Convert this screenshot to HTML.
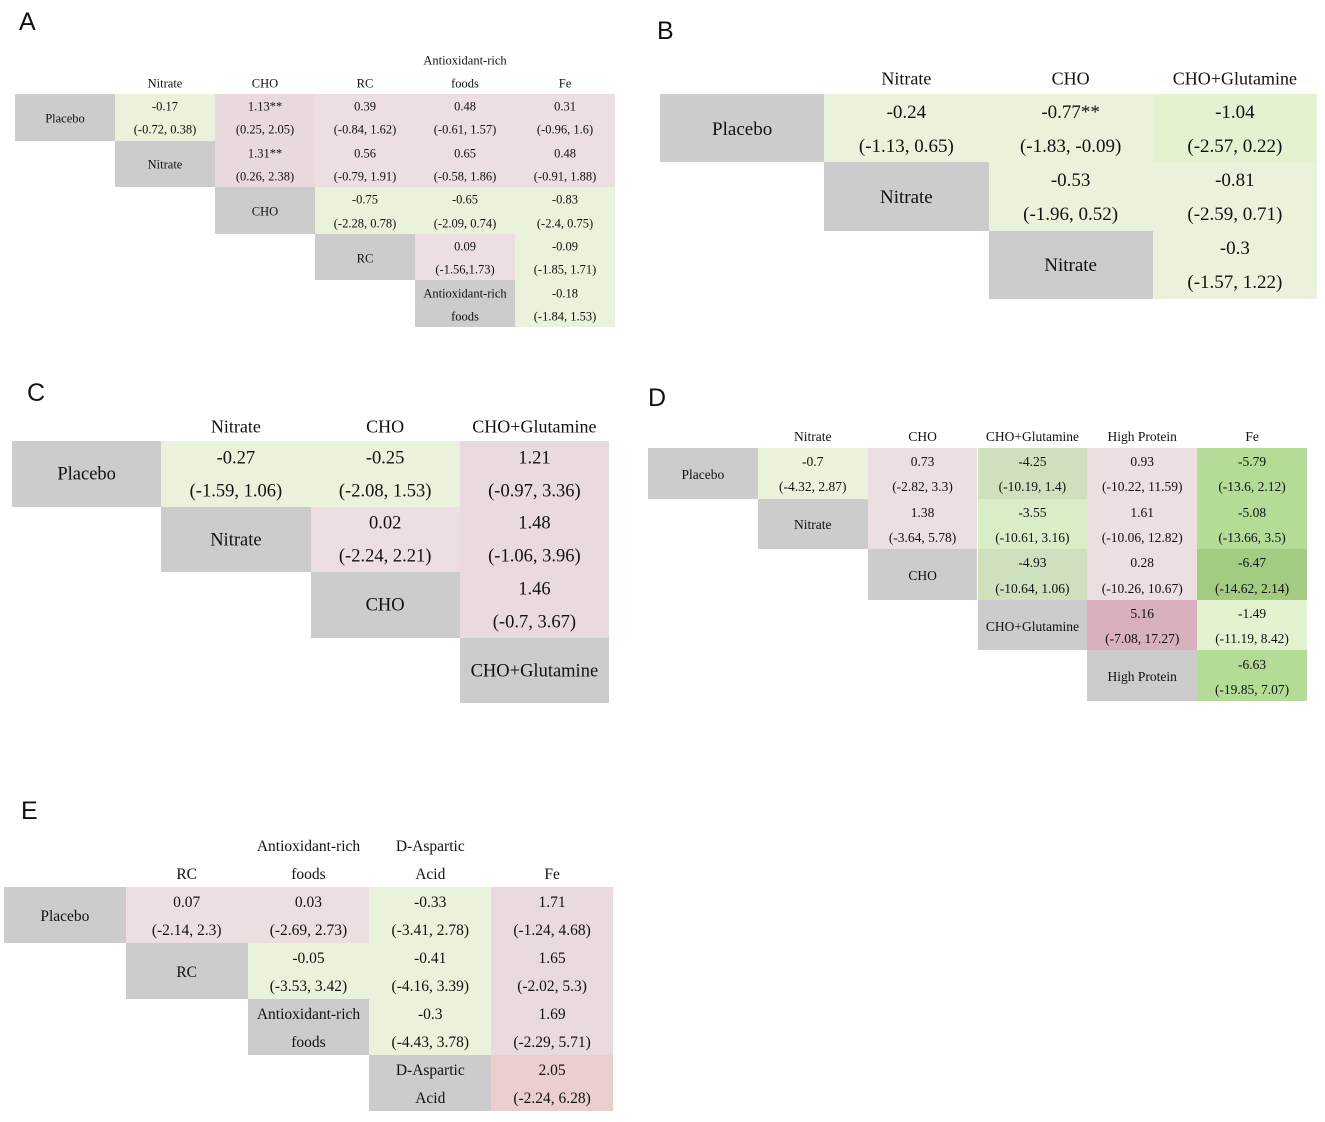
<!DOCTYPE html>
<html><head><meta charset="utf-8">
<style>
html,body{margin:0;padding:0;background:#fff;}
body{width:1325px;height:1122px;position:relative;overflow:hidden;font-family:"Liberation Serif",serif;color:#111;}
.lbl{position:absolute;font-family:"Liberation Sans",sans-serif;font-size:25px;}
.c{position:absolute;box-sizing:border-box;}
.t{position:absolute;left:0;right:0;text-align:center;white-space:nowrap;transform:translateY(-50%);margin-top:1.5px;}
</style></head><body>
<div class="lbl" style="left:19px;top:8px">A</div>
<div class="lbl" style="left:657px;top:17px">B</div>
<div class="lbl" style="left:27px;top:379px">C</div>
<div class="lbl" style="left:648px;top:384px">D</div>
<div class="lbl" style="left:21px;top:797px">E</div>
<script>
// ---- Panel A data ----
const aTreat = [["Placebo"],["Nitrate"],["CHO"],["RC"],["Antioxidant-rich","foods"]];
const aCols = [["Nitrate"],["CHO"],["RC"],["Antioxidant-rich","foods"],["Fe"]];
const aEst = [["-0.17","1.13**","0.39","0.48","0.31"],["1.31**","0.56","0.65","0.48"],["-0.75","-0.65","-0.83"],["0.09","-0.09"],["-0.18"]];
const aCI = [["(-0.72, 0.38)","(0.25, 2.05)","(-0.84, 1.62)","(-0.61, 1.57)","(-0.96, 1.6)"],["(0.26, 2.38)","(-0.79, 1.91)","(-0.58, 1.86)","(-0.91, 1.88)"],["(-2.28, 0.78)","(-2.09, 0.74)","(-2.4, 0.75)"],["(-1.56,1.73)","(-1.85, 1.71)"],["(-1.84, 1.53)"]];
const aFill = [["#ebf2dc","#ead9dc","#eddfe1","#eddfe1","#eddfe1"],["#ead9dc","#eddfe1","#eddfe1","#eddfe1"],["#ebf2dc","#ebf2dc","#ebf2dc"],["#eddfe1","#ebf2dc"],["#ebf2dc"]];
// ---- Panel B data ----
const bTreat = [["Placebo"],["Nitrate"],["Nitrate"]];
const bCols = [["Nitrate"],["CHO"],["CHO+Glutamine"]];
const bEst = [["-0.24","-0.77**","-1.04"],["-0.53","-0.81"],["-0.3"]];
const bCI = [["(-1.13, 0.65)","(-1.83, -0.09)","(-2.57, 0.22)"],["(-1.96, 0.52)","(-2.59, 0.71)"],["(-1.57, 1.22)"]];
const bFill = [["#ebf2dc","#ebf2dc","#e3f2cf"],["#ebf2dc","#ebf2dc"],["#ebf2dc"]];
// ---- Panel C data ----
const cTreat = [["Placebo"],["Nitrate"],["CHO"],["CHO+Glutamine"]];
const cCols = [["Nitrate"],["CHO"],["CHO+Glutamine"]];
const cEst = [["-0.27","-0.25","1.21"],["0.02","1.48"],["1.46"],[]];
const cCI = [["(-1.59, 1.06)","(-2.08, 1.53)","(-0.97, 3.36)"],["(-2.24, 2.21)","(-1.06, 3.96)"],["(-0.7, 3.67)"],[]];
const cFill = [["#ebf2dc","#ebf2dc","#ead9de"],["#eddfe1","#ead9de"],["#ead9de"],[]];
// ---- Panel D data ----
const dTreat = [["Placebo"],["Nitrate"],["CHO"],["CHO+Glutamine"],["High Protein"]];
const dCols = [["Nitrate"],["CHO"],["CHO+Glutamine"],["High Protein"],["Fe"]];
const dEst = [["-0.7","0.73","-4.25","0.93","-5.79"],["1.38","-3.55","1.61","-5.08"],["-4.93","0.28","-6.47"],["5.16","-1.49"],["-6.63"]];
const dCI = [["(-4.32, 2.87)","(-2.82, 3.3)","(-10.19, 1.4)","(-10.22, 11.59)","(-13.6, 2.12)"],["(-3.64, 5.78)","(-10.61, 3.16)","(-10.06, 12.82)","(-13.66, 3.5)"],["(-10.64, 1.06)","(-10.26, 10.67)","(-14.62, 2.14)"],["(-7.08, 17.27)","(-11.19, 8.42)"],["(-19.85, 7.07)"]];
const dFill = [["#ebf3dc","#ecdfe1","#cfe0bf","#ecdfe1","#b5dc97"],["#ecdfe1","#d9edc6","#ecdfe1","#b5dc97"],["#cfe0bf","#ecdfe1","#a3cc82"],["#d9b0bd","#e3f2cf"],["#b5dc97"]];
// ---- Panel E data ----
const eTreat = [["Placebo"],["RC"],["Antioxidant-rich","foods"],["D-Aspartic","Acid"]];
const eCols = [["RC"],["Antioxidant-rich","foods"],["D-Aspartic","Acid"],["Fe"]];
const eEst = [["0.07","0.03","-0.33","1.71"],["-0.05","-0.41","1.65"],["-0.3","1.69"],["2.05"]];
const eCI = [["(-2.14, 2.3)","(-2.69, 2.73)","(-3.41, 2.78)","(-1.24, 4.68)"],["(-3.53, 3.42)","(-4.16, 3.39)","(-2.02, 5.3)"],["(-4.43, 3.78)","(-2.29, 5.71)"],["(-2.24, 6.28)"]];
const eFill = [["#eddfe1","#eddfe1","#ebf2dc","#ead9de"],["#ebf2dc","#ebf2dc","#ead9de"],["#ebf2dc","#ead9de"],["#ebcfcf"]];

function textLines(parent, lines, h, fs, nameBase){
  const n = lines.length;
  lines.forEach((s,k)=>{
    const d=document.createElement('div');
    d.className='t';
    
    
    d.style.fontSize=fs+'px';
    d.style.top=(n===1? h/2 : h*(0.25+0.5*k))+'px';
    d.textContent=s;
    parent.appendChild(d);
  });
}
function panel(id, o, treat, cols, est, ci, fill){
  const wrap=document.createElement('div');
  
  
  document.body.appendChild(wrap);
  const cw=o.w/(cols.length+1), rh=o.h/treat.length;
  cols.forEach((c,j)=>{
    const hd=document.createElement('div');
    hd.className='c';
    
    
    const hh=o.hh;
    hd.style.cssText+=`left:${o.x+(j+1)*cw}px;top:${o.y-hh}px;width:${cw}px;height:${hh}px;`;
    c.forEach((s,k)=>{
      const d=document.createElement('div');
      d.className='t';
      
      
      d.style.fontSize=o.hfs+'px';
      d.style.top=(hh-o.hline/2-(c.length-1-k)*o.hline)+'px';
      d.textContent=s;
      hd.appendChild(d);
    });
    wrap.appendChild(hd);
  });
  treat.forEach((t,i)=>{
    const lc=document.createElement('div');
    lc.className='c';
    
    
    lc.style.cssText+=`left:${o.x+i*cw}px;top:${o.y+i*rh}px;width:${cw}px;height:${rh}px;background:#cccccc;`;
    textLines(lc,t,rh,o.lfs,'row-label');
    wrap.appendChild(lc);
    (est[i]||[]).forEach((v,k)=>{
      const cell=document.createElement('div');
      cell.className='c';
      
      
      cell.style.cssText+=`left:${o.x+(i+1+k)*cw}px;top:${o.y+i*rh}px;width:${cw}px;height:${rh}px;background:${fill[i][k]};`;
      textLines(cell,[v,ci[i][k]],rh,o.fs,'comparison-value');
      wrap.appendChild(cell);
    });
  });
}
panel('a',{x:15,y:94,w:600,h:233,hh:46,hline:23,fs:12.5,lfs:12.5,hfs:12.5},aTreat,aCols,aEst,aCI,aFill);
panel('b',{x:660,y:94,w:657,h:205,hh:34,hline:34,fs:19,lfs:19,hfs:18},bTreat,bCols,bEst,bCI,bFill);
panel('c',{x:12,y:441,w:597,h:262,hh:32,hline:32,fs:18.5,lfs:18.5,hfs:18},cTreat,cCols,cEst,cCI,cFill);
panel('d',{x:648,y:448,w:659,h:253,hh:25,hline:25,fs:13.5,lfs:13.5,hfs:13.5},dTreat,dCols,dEst,dCI,dFill);
panel('e',{x:4,y:887,w:609,h:224,hh:56,hline:28,fs:15.5,lfs:15.5,hfs:15.5},eTreat,eCols,eEst,eCI,eFill);
</script>
</body></html>
